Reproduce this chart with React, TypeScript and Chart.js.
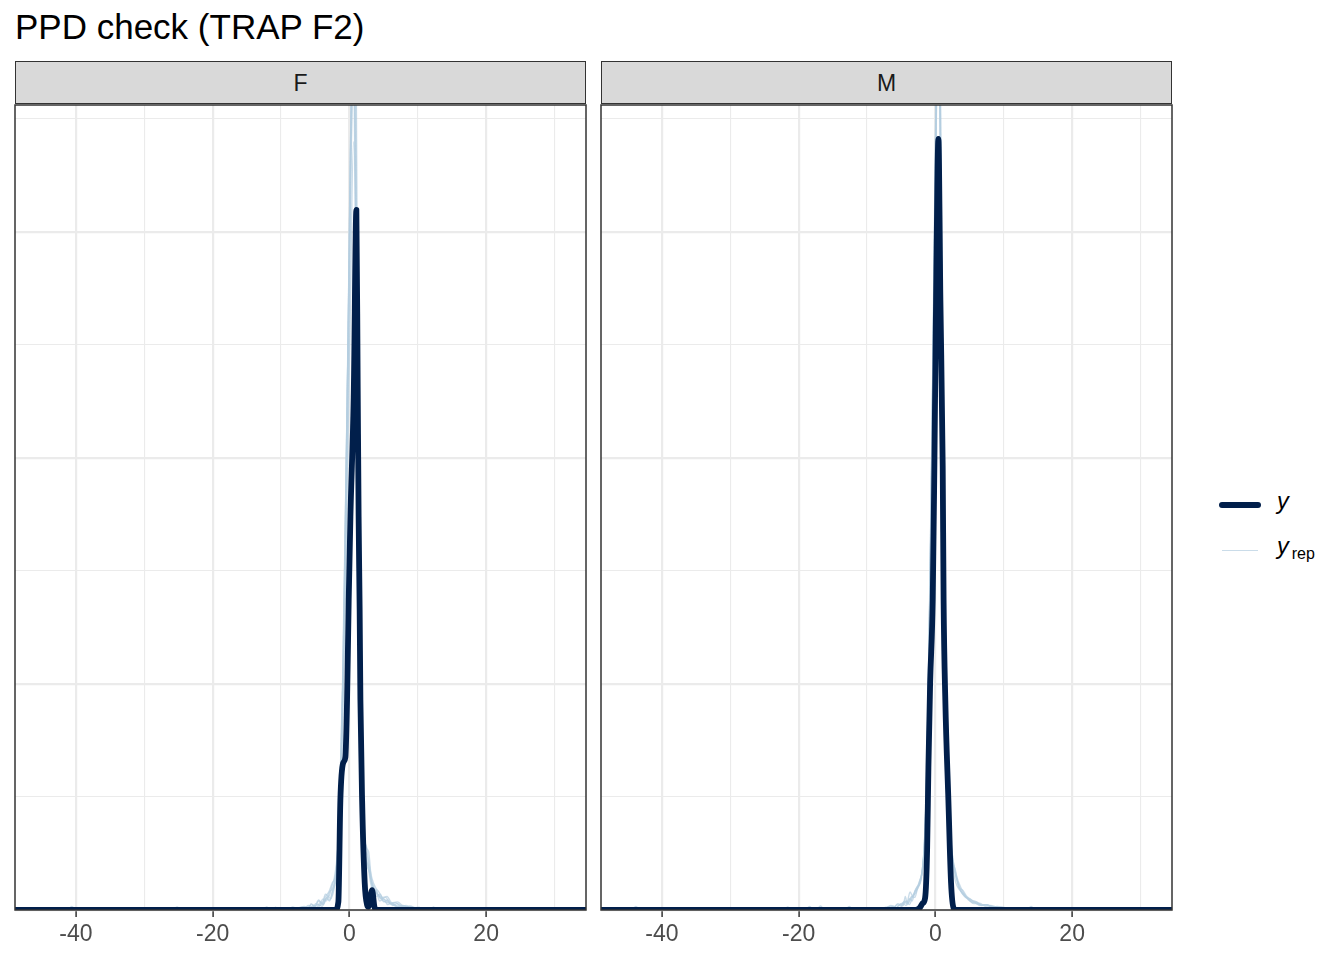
import React, { useEffect, useRef } from 'react';
import { Chart, registerables } from 'chart.js';

Chart.register(...registerables);

const FONT = '"Liberation Sans", Arial, Helvetica, sans-serif';
const TITLE = 'PPD check (TRAP F2)';
const PANEL_LABELS = ['F', 'M'];
const X_MIN = -48.9;
const X_MAX = 34.6;
const Y_MAX = 1.781;
const X_TICK_LABELS = [-40, -20, 0, 20];
const Y_MAJOR = [0, 0.5, 1, 1.5];

// observed density, panel F
const F_Y = [[-48.9,0],[-2.05,0],[-1.61,0.018],[-1.32,0.243],[-0.92,0.325],[-0.59,0.338],[-0.34,0.465],[-0.1,0.686],[0.15,0.87],[0.63,1.135],[1.02,1.549],[1.21,1.166],[1.35,0.87],[1.5,0.664],[1.61,0.465],[1.86,0.243],[2.24,0.06],[2.59,0.011],[2.78,0.007],[3.32,0.044],[3.66,0.007],[3.95,0],[34.6,0]];
// replicated densities, panel F
const F_REP_1 = [[-48.9,0],[-41.2,0],[-40.6,0.008],[-40.0,0],[-12.7,0],[-12.1,0.007],[-11.5,0],[-6.8,0],[-6.2,0.006],[-5.8,0.003],[-5.3,0.01],[-4.8,0.006],[-4.3,0.016],[-3.8,0.012],[-3.3,0.028],[-2.9,0.022],[-2.4,0.045],[-1.8,0.1],[-1.35,0.25],[-0.8,0.6],[-0.2,1.25],[0.5,1.95],[0.9,1.5],[1.3,0.8],[1.6,0.45],[1.9,0.2],[2.3,0.12],[2.7,0.1],[3.1,0.06],[3.5,0.04],[3.9,0.045],[4.4,0.02],[5.0,0.024],[5.6,0.012],[6.2,0.015],[7.0,0.008],[7.8,0.01],[9.0,0.004],[10.2,0.006],[10.8,0],[34.6,0]];
const F_REP_2 = [[-48.9,0],[-25.9,0],[-25.2,0.007],[-24.5,0],[-11.3,0],[-10.8,0.006],[-10.2,0],[-9.7,0.005],[-9.1,0],[-8.3,0.007],[-7.6,0.003],[-6.6,0.008],[-6.0,0.004],[-5.6,0.014],[-5.1,0.008],[-4.5,0.022],[-4.0,0.014],[-3.5,0.035],[-3.0,0.03],[-2.6,0.05],[-2.1,0.08],[-1.6,0.16],[-1.1,0.38],[-0.5,0.95],[0.2,1.7],[0.6,2.2],[0.95,1.7],[1.3,0.95],[1.6,0.45],[1.95,0.22],[2.4,0.14],[2.8,0.13],[3.2,0.07],[3.6,0.05],[4.0,0.03],[4.5,0.035],[5.0,0.018],[5.6,0.022],[6.3,0.01],[7.0,0.014],[8.0,0.006],[8.8,0.009],[9.8,0.004],[11.8,0],[12.3,0.007],[12.8,0],[34.6,0]];
const F_REP_3 = [[-48.9,0],[-9.5,0],[-8.5,0.004],[-7.8,0.002],[-7.0,0.007],[-6.2,0.005],[-5.5,0.012],[-5.0,0.008],[-4.5,0.02],[-4.0,0.016],[-3.5,0.03],[-3.0,0.04],[-2.5,0.06],[-2.0,0.08],[-1.5,0.2],[-1.0,0.5],[-0.3,1.15],[0.4,1.85],[0.8,1.75],[1.15,1.1],[1.5,0.6],[1.8,0.3],[2.2,0.15],[2.6,0.12],[3.0,0.08],[3.5,0.05],[4.0,0.04],[4.6,0.025],[5.3,0.028],[6.0,0.014],[6.8,0.016],[7.5,0.008],[8.3,0.01],[9.0,0.004],[10.0,0],[34.6,0]];
const F_REP_4 = [[-48.9,0],[-7.2,0],[-6.4,0.006],[-6.0,0.01],[-5.4,0.006],[-4.9,0.014],[-4.4,0.01],[-3.9,0.024],[-3.4,0.02],[-2.9,0.04],[-2.4,0.05],[-1.9,0.09],[-1.4,0.24],[-0.9,0.55],[-0.3,1.15],[0.3,1.7],[0.7,1.85],[1.1,1.3],[1.45,0.7],[1.75,0.33],[2.1,0.17],[2.5,0.14],[2.9,0.1],[3.3,0.07],[3.8,0.05],[4.3,0.04],[4.9,0.028],[5.5,0.03],[6.2,0.016],[7.0,0.018],[8.0,0.008],[9.0,0.007],[9.5,0.004],[10.5,0],[34.6,0]];
const F_REP_5 = [[-48.9,0],[-6.0,0],[-5.2,0.008],[-4.5,0.012],[-4.0,0.008],[-3.4,0.025],[-2.9,0.02],[-2.5,0.04],[-2.0,0.07],[-1.5,0.18],[-1.0,0.42],[-0.5,0.8],[0.1,1.3],[0.6,1.7],[1.0,1.45],[1.35,0.85],[1.65,0.42],[1.95,0.2],[2.4,0.11],[2.9,0.085],[3.4,0.05],[4.1,0.035],[5.0,0.025],[6.0,0.015],[7.2,0.008],[8.5,0.004],[9.2,0],[34.6,0]];
const F_REP_6 = [[-48.9,0],[-5.0,0],[-4.3,0.01],[-3.8,0.015],[-3.2,0.03],[-2.7,0.025],[-2.2,0.05],[-1.7,0.1],[-1.2,0.28],[-0.6,0.7],[0.0,1.35],[0.45,2.0],[0.75,2.45],[1.05,1.7],[1.35,0.95],[1.65,0.45],[1.95,0.22],[2.4,0.12],[2.9,0.09],[3.3,0.055],[3.8,0.04],[4.4,0.03],[5.0,0.02],[5.8,0.015],[6.5,0.01],[8.0,0],[34.6,0]];

// observed density, panel M
const M_Y = [[-48.9,0],[-2.92,0],[-2.34,0.004],[-1.85,0.015],[-1.5,0.027],[-1.21,0.133],[-1.02,0.316],[-0.77,0.502],[-0.39,0.686],[-0.15,0.98],[0.1,1.35],[0.44,1.706],[0.73,1.35],[1.07,0.98],[1.2,0.686],[1.45,0.465],[1.9,0.243],[2.29,0.06],[2.67,0.004],[3.07,0],[34.6,0]];
// replicated densities, panel M
const M_REP_1 = [[-48.9,0],[-44.4,0],[-43.8,0.008],[-43.2,0],[-8.0,0],[-7.3,0.006],[-6.8,0.003],[-6.2,0.009],[-5.7,0.005],[-5.1,0.013],[-4.7,0.01],[-4.4,0.03],[-4.1,0.012],[-3.7,0.022],[-3.2,0.035],[-2.7,0.05],[-2.2,0.06],[-1.7,0.12],[-1.3,0.28],[-0.9,0.6],[-0.4,1.15],[0.0,1.6],[0.4,2.0],[0.75,1.6],[1.1,1.0],[1.4,0.62],[1.75,0.35],[2.1,0.18],[2.5,0.12],[2.9,0.08],[3.3,0.06],[3.8,0.04],[4.3,0.03],[5.0,0.022],[5.6,0.014],[6.5,0.015],[7.3,0.008],[8.0,0.01],[9.5,0.005],[10.8,0.005],[11.3,0],[34.6,0]];
const M_REP_2 = [[-48.9,0],[-22.2,0],[-21.6,0.007],[-21.0,0],[-19.0,0],[-18.4,0.008],[-17.8,0],[-17.4,0],[-16.8,0.009],[-16.2,0],[-7.5,0],[-6.9,0.007],[-6.5,0.01],[-6.0,0.006],[-5.5,0.014],[-5.0,0.01],[-4.5,0.02],[-4.0,0.016],[-3.5,0.03],[-3.0,0.028],[-2.6,0.05],[-2.1,0.07],[-1.6,0.15],[-1.2,0.35],[-0.7,0.8],[-0.2,1.4],[0.3,1.95],[0.7,1.75],[1.05,1.1],[1.4,0.6],[1.75,0.32],[2.1,0.2],[2.5,0.11],[2.9,0.09],[3.4,0.05],[3.9,0.045],[4.6,0.03],[5.3,0.022],[6.0,0.018],[6.8,0.01],[7.5,0.012],[8.3,0.006],[9.0,0.008],[10.5,0.004],[11.0,0],[13.4,0],[14.0,0.008],[14.6,0],[34.6,0]];
const M_REP_3 = [[-48.9,0],[-13.2,0],[-12.6,0.008],[-12.0,0],[-8.0,0],[-7.2,0.005],[-6.8,0.008],[-6.2,0.004],[-5.6,0.012],[-5.1,0.009],[-4.6,0.018],[-4.2,0.014],[-3.7,0.04],[-3.3,0.03],[-2.9,0.045],[-2.4,0.06],[-1.9,0.09],[-1.5,0.18],[-1.1,0.42],[-0.6,0.95],[0.0,1.6],[0.45,2.15],[0.85,1.55],[1.2,0.9],[1.55,0.5],[1.9,0.28],[2.3,0.15],[2.7,0.1],[3.2,0.07],[3.7,0.05],[4.2,0.035],[4.8,0.025],[5.4,0.016],[6.0,0.018],[6.8,0.01],[7.5,0.012],[8.5,0.006],[10.0,0.005],[10.6,0],[34.6,0]];
const M_REP_4 = [[-48.9,0],[-6.0,0],[-5.4,0.01],[-4.8,0.015],[-4.3,0.01],[-3.8,0.025],[-3.4,0.02],[-3.0,0.04],[-2.5,0.05],[-2.0,0.08],[-1.5,0.17],[-1.1,0.4],[-0.6,0.9],[-0.1,1.5],[0.35,1.85],[0.7,1.75],[1.05,1.15],[1.4,0.62],[1.75,0.33],[2.1,0.18],[2.5,0.1],[3.0,0.06],[3.5,0.045],[4.2,0.035],[5.0,0.02],[5.7,0.018],[6.5,0.01],[7.3,0.012],[8.5,0.006],[9.5,0],[34.6,0]];
const M_REP_5 = [[-48.9,0],[-5.5,0],[-4.8,0.01],[-4.2,0.02],[-3.8,0.012],[-3.3,0.03],[-2.8,0.04],[-2.3,0.065],[-1.8,0.1],[-1.4,0.22],[-1.0,0.5],[-0.5,1.05],[0.0,1.7],[0.4,2.35],[0.75,1.8],[1.1,1.1],[1.45,0.6],[1.8,0.3],[2.2,0.16],[2.6,0.1],[3.1,0.07],[3.6,0.045],[4.3,0.03],[5.0,0.025],[5.8,0.016],[6.6,0.012],[7.5,0.01],[9.0,0.005],[9.8,0],[34.6,0]];

const PANEL_DATA = [
  { y: F_Y, reps: [F_REP_1, F_REP_2, F_REP_3, F_REP_4, F_REP_5, F_REP_6] },
  { y: M_Y, reps: [M_REP_1, M_REP_2, M_REP_3, M_REP_4, M_REP_5] },
];

const DARK = '#011F4B';
const LIGHT = 'rgba(179,205,224,0.7)';
const GRID = '#EBEBEB';

const toXY = (arr: number[][]) => arr.map(([x, y]) => ({ x, y }));

const borderPlugin = {
  id: 'panelBorder',
  afterDatasetsDraw(chart: any) {
    const { ctx, chartArea } = chart;
    ctx.save();
    ctx.strokeStyle = '#333333';
    ctx.lineWidth = 1.5;
    ctx.strokeRect(chartArea.left, chartArea.top, chartArea.right - chartArea.left, chartArea.bottom - chartArea.top);
    ctx.restore();
  },
};

function Panel({ left, index }: { left: number; index: number }) {
  const ref = useRef<HTMLCanvasElement>(null);
  useEffect(() => {
    const pd = PANEL_DATA[index];
    // Chart.js draws the first dataset on top, so the observed curve comes first.
    const datasets: any[] = [{
      data: toXY(pd.y),
      borderColor: DARK,
      borderWidth: 5.8,
      pointRadius: 0,
      fill: false,
      borderJoinStyle: 'round',
      borderCapStyle: 'round',
      cubicInterpolationMode: 'monotone',
    }];
    pd.reps.forEach((r) => datasets.push({
      data: toXY(r),
      borderColor: LIGHT,
      borderWidth: 1.4,
      pointRadius: 0,
      fill: false,
      cubicInterpolationMode: 'monotone',
    }));
    const chart = new Chart(ref.current as HTMLCanvasElement, {
      type: 'line',
      data: { datasets },
      plugins: [borderPlugin],
      options: {
        animation: false,
        responsive: false,
        events: [],
        layout: { padding: { left: 15, right: 14, top: 10, bottom: 0 } },
        plugins: { legend: { display: false }, tooltip: { enabled: false } },
        scales: {
          x: {
            type: 'linear',
            min: X_MIN,
            max: X_MAX,
            border: { display: false },
            afterFit: (s: any) => { s.height = 50; },
            grid: {
              color: GRID,
              lineWidth: (c: any) => (Math.abs(c.tick?.value % 20) < 1e-6 ? 2.2 : 1.1),
              tickColor: (c: any) => (X_TICK_LABELS.includes(c.tick?.value) ? '#333333' : 'rgba(0,0,0,0)'),
              tickWidth: 1.5,
              tickLength: 7,
            },
            ticks: {
              stepSize: 10,
              includeBounds: false,
              autoSkip: false,
              maxRotation: 0,
              padding: 4,
              color: '#4D4D4D',
              font: { family: FONT, size: 23 },
              callback: (v: any) => (X_TICK_LABELS.includes(Number(v)) ? String(v) : ''),
            },
          },
          y: {
            type: 'linear',
            min: 0,
            max: Y_MAX,
            border: { display: false },
            afterFit: (s: any) => { s.width = 0; },
            grid: {
              color: GRID,
              drawTicks: false,
              lineWidth: (c: any) => (Y_MAJOR.some((m) => Math.abs(m - c.tick?.value) < 1e-6) ? 2.2 : 1.1),
            },
            ticks: { display: false, stepSize: 0.25, includeBounds: false },
          },
        },
      } as any,
    });
    return () => chart.destroy();
  }, [index]);
  return (
    <canvas
      ref={ref}
      width={600}
      height={865}
      style={{ position: 'absolute', left, top: 95, width: 600, height: 865 }}
    />
  );
}

function Strip({ left, label }: { left: number; label: string }) {
  return (
    <div
      style={{
        position: 'absolute', left, top: 61, width: 571, height: 43, boxSizing: 'border-box',
        border: '1.5px solid #333333', background: '#D9D9D9', color: '#1A1A1A',
        fontFamily: FONT, fontSize: 23, lineHeight: '42px', textAlign: 'center',
      }}
    >
      {label}
    </div>
  );
}

export default function App() {
  return (
    <div style={{ position: 'absolute', left: 0, top: 0, width: 1344, height: 960, background: '#FFFFFF', overflow: 'hidden', fontFamily: FONT }}>
      <div style={{ position: 'absolute', left: 15, top: 9, fontSize: 35, lineHeight: 1, color: '#000000', whiteSpace: 'nowrap' }}>{TITLE}</div>
      <Strip left={15} label={PANEL_LABELS[0]} />
      <Strip left={601} label={PANEL_LABELS[1]} />
      <Panel left={0} index={0} />
      <Panel left={586} index={1} />
      <div style={{ position: 'absolute', left: 1219, top: 502, width: 42, height: 5.5, borderRadius: 3, background: DARK }} />
      <div style={{ position: 'absolute', left: 1222, top: 550, width: 36, height: 1.4, background: LIGHT }} />
      <div style={{ position: 'absolute', left: 1277, top: 490, fontSize: 23.5, lineHeight: 1, fontStyle: 'italic', color: '#000000' }}>y</div>
      <div style={{ position: 'absolute', left: 1277, top: 535, fontSize: 23.5, lineHeight: 1, color: '#000000', whiteSpace: 'nowrap' }}>
        <span style={{ fontStyle: 'italic' }}>y</span>
        <span style={{ fontSize: 16, verticalAlign: '-5px', marginLeft: 3 }}>rep</span>
      </div>
    </div>
  );
}
